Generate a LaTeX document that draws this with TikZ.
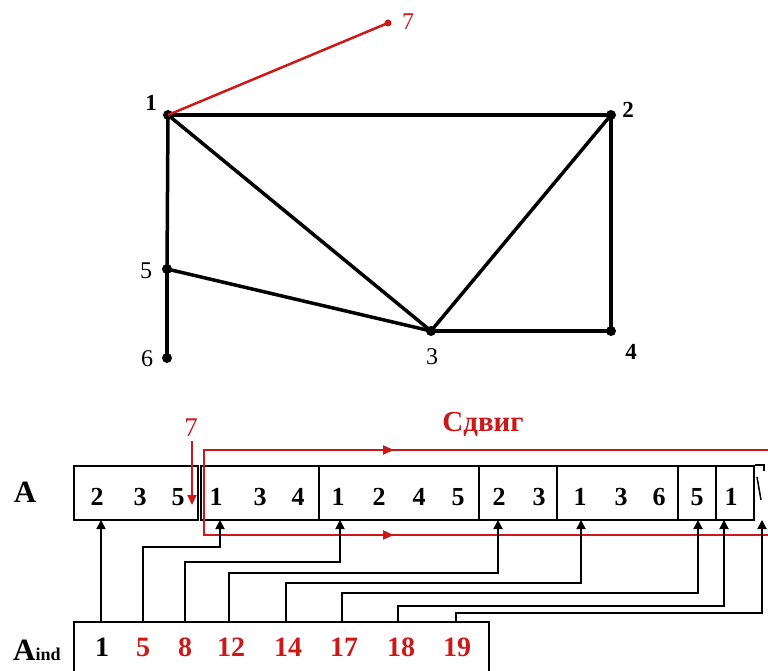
\documentclass[tikz,border=0pt]{standalone}
\usepackage{fontspec}
\setmainfont{Liberation Serif}
\usetikzlibrary{arrows.meta}
\definecolor{myred}{RGB}{204,24,24}
\tikzset{
  dot/.style={circle,fill=black,inner sep=0pt,minimum size=10pt},
  rdot/.style={circle,fill=myred,inner sep=0pt,minimum size=7pt},
  edge/.style={line width=3.5pt},
  redge/.style={myred,line width=2.5pt},
  glab/.style={inner sep=0pt,font=\fontsize{23}{26}\selectfont\bfseries},
  glabr/.style={inner sep=0pt,font=\fontsize{24}{26}\selectfont},
  cell/.style={draw,line width=1.8pt,inner sep=0pt,minimum height=54pt},
  adig/.style={inner sep=0pt,font=\fontsize{26}{30}\selectfont\bfseries},
  idig/.style={inner sep=0pt,font=\fontsize{28}{32}\selectfont\bfseries},
  conn/.style={line width=1.8pt,-{Triangle[length=9pt,width=9pt]}},
  rline/.style={myred,line width=1.8pt},
  rtip/.style={myred,line width=1.8pt,-{Triangle[length=11pt,width=9pt]}},
}
\begin{document}
\begin{tikzpicture}[x=1pt,y=-1pt]
\useasboundingbox (0,0) rectangle (768,671);
\clip (0,0) rectangle (768,671);
% ---------- graph ----------
\node[dot] (n1) at (168,115) {};
\node[dot] (n2) at (611,115) {};
\node[dot] (n3) at (431,331) {};
\node[dot] (n4) at (611,331) {};
\node[dot] (n5) at (167,269) {};
\node[dot] (n6) at (167,358) {};
\node[rdot] (n7) at (388,23) {};
\draw[edge] (n1.center) -- (n2.center);
\draw[edge] (n1.center) -- (n5.center);
\draw[edge] (n5.center) -- (n6.center);
\draw[edge] (n1.center) -- (n3.center);
\draw[edge] (n2.center) -- (n3.center);
\draw[edge] (n2.center) -- (n4.center);
\draw[edge] (n3.center) -- (n4.center);
\draw[edge] (n5.center) -- (n3.center);
\draw[redge] (n1.center) -- (n7.center);
\node[glab] (l1) at (151,103) {1};
\node[glab] (l2) at (628,110) {2};
\node[glabr] (l3) at (432,357) {3};
\node[glab] (l4) at (631,352) {4};
\node[glabr] (l5) at (146,271) {5};
\node[glabr] (l6) at (147,359) {6};
\node[glabr,text=myred] (l7) at (408,22) {7};
% ---------- array A ----------
\node[inner sep=0pt,font=\fontsize{31}{34}\selectfont\bfseries] (A) at (25,492) {A};
\node[cell,minimum width=124pt,anchor=north west] (c1) at (73,465) {};
\node[cell,minimum width=118pt,anchor=north west] (c2) at (200,465) {};
\node[cell,minimum width=160pt,anchor=north west] (c3) at (318,465) {};
\node[cell,minimum width=78pt,anchor=north west] (c4) at (478,465) {};
\node[cell,minimum width=121pt,anchor=north west] (c5) at (556,465) {};
\node[cell,minimum width=38pt,anchor=north west] (c6) at (677,465) {};
\node[cell,minimum width=38pt,anchor=north west] (c7) at (715,465) {};
\draw[line width=1.8pt] (c7.north east) -- ++(9,0) -- ++(0,6);
\draw[line width=1.5pt] (757,477) -- (761,500);
\node[adig] (d1) at (97,497) {2};
\node[adig] (d2) at (140,497) {3};
\node[adig] (d3) at (178,497) {5};
\node[adig] (d4) at (216,497) {1};
\node[adig] (d5) at (260,497) {3};
\node[adig] (d6) at (298,497) {4};
\node[adig] (d7) at (338,497) {1};
\node[adig] (d8) at (379,497) {2};
\node[adig] (d9) at (419,497) {4};
\node[adig] (d10) at (458,497) {5};
\node[adig] (d11) at (499,497) {2};
\node[adig] (d12) at (539,497) {3};
\node[adig] (d13) at (580,497) {1};
\node[adig] (d14) at (621,497) {3};
\node[adig] (d15) at (659,497) {6};
\node[adig] (d16) at (697,497) {5};
\node[adig] (d17) at (731,497) {1};
% ---------- red shift ----------
\node[inner sep=0pt,text=myred,font=\fontsize{27}{30}\selectfont] (r7) at (191,428) {7};
\coordinate (r7tip) at (192,505);
\draw[myred,line width=1.8pt,-{Triangle[length=10pt,width=9pt]}] (r7.south) ++(1,4) -- (r7tip);
\node[inner sep=0pt,text=myred,font=\fontsize{29}{32}\selectfont\bfseries] (shift) at (483,424) {Сдвиг};
\coordinate (sh1) at (800,450);
\coordinate (sh2) at (204,450);
\coordinate (sh3) at (204,535);
\coordinate (sh4) at (800,535);
\draw[rline] (sh1) -- (sh2) -- (sh3) -- (sh4);
\draw[rtip] (sh2) ++(175,0) -- ++(15,0);
\draw[rtip] (sh3) ++(175,0) -- ++(15,0);
% ---------- array A_ind ----------
\node[anchor=base west,inner sep=0pt] (Aind) at (13,660)
  {\fontsize{31}{34}\selectfont\bfseries A\fontsize{18}{20}\selectfont ind};
\node[cell,minimum width=415pt,minimum height=70pt,anchor=north west] (ib) at (73,621) {};
\node[idig] (i1) at (102,647) {1};
\node[idig,text=myred] (i2) at (143,647) {5};
\node[idig,text=myred] (i3) at (185,647) {8};
\node[idig,text=myred] (i4) at (231,647) {12};
\node[idig,text=myred] (i5) at (288,647) {14};
\node[idig,text=myred] (i6) at (344,647) {17};
\node[idig,text=myred] (i7) at (401,647) {18};
\node[idig,text=myred] (i8) at (457,647) {19};
% ---------- connectors ----------
\foreach \n/\sx/\tx in {1/101/101,2/143/220,3/185/340,4/229/498,5/286/581,6/342/698,7/398/724,8/456/762}{
  \coordinate (s\n) at (\sx,621);
  \coordinate (t\n) at (\tx,520);
}
\draw[conn] (s1) -- (t1);
\draw[conn] (s2) -- ++(0,-74) -| (t2);
\draw[conn] (s3) -- ++(0,-59) -| (t3);
\draw[conn] (s4) -- ++(0,-48) -| (t4);
\draw[conn] (s5) -- ++(0,-38) -| (t5);
\draw[conn] (s6) -- ++(0,-28) -| (t6);
\draw[conn] (s7) -- ++(0,-15) -| (t7);
\draw[conn] (s8) -- ++(0,-8) -| (t8);
\end{tikzpicture}
\end{document}
